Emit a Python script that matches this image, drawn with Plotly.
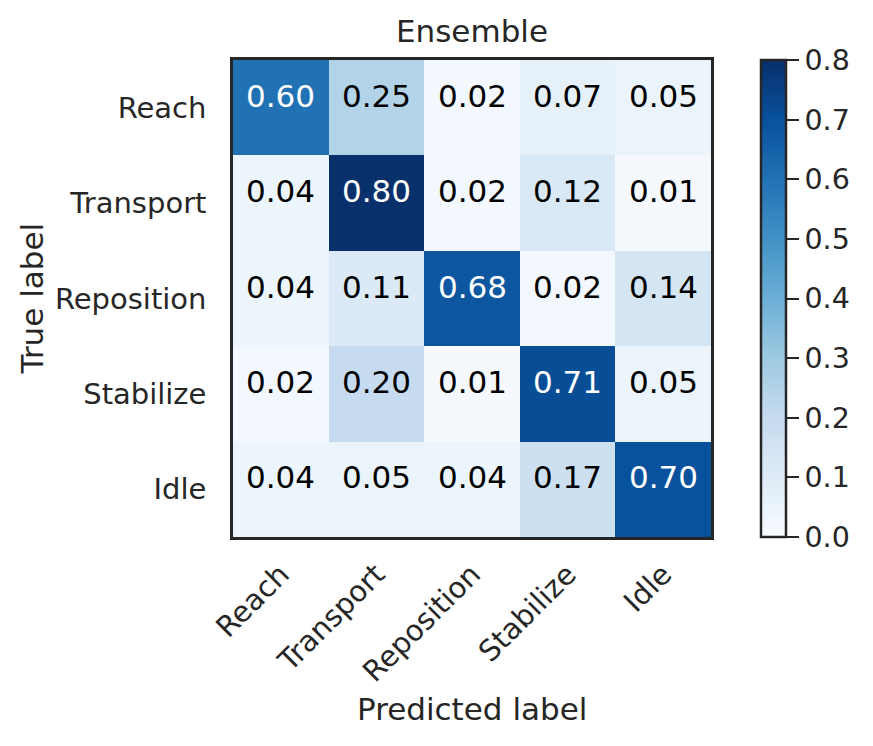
import plotly.graph_objects as go

labels = ["Reach", "Transport", "Reposition", "Stabilize", "Idle"]
values = [
    [0.60, 0.25, 0.02, 0.07, 0.05],
    [0.04, 0.80, 0.02, 0.12, 0.01],
    [0.04, 0.11, 0.68, 0.02, 0.14],
    [0.02, 0.20, 0.01, 0.71, 0.05],
    [0.04, 0.05, 0.04, 0.17, 0.70],
]
cbar_ticks = [0.0, 0.1, 0.2, 0.3, 0.4, 0.5, 0.6, 0.7, 0.8]

blues = ["#f7fbff", "#deebf7", "#c6dbef", "#9ecae1", "#6baed6",
         "#4292c6", "#2171b5", "#08519c", "#08306b"]
colorscale = [[i / (len(blues) - 1), c] for i, c in enumerate(blues)]

FONT = "DejaVu Sans"
DARK = "#262626"
vmax = 0.8
thresh = max(max(r) for r in values) / 2
OFF = 8  # page body margin compensation

fig = go.Figure(go.Heatmap(
    z=values, x=labels, y=labels,
    colorscale=colorscale, zmin=0, zmax=vmax,
    showscale=True,
    colorbar=dict(
        x=(761 - 233) / 478, xanchor="left", xpad=0,
        y=0.5, yanchor="middle", ypad=0,
        len=1, lenmode="fraction", thickness=25,
        outlinewidth=2.5, outlinecolor=DARK,
        tickvals=cbar_ticks, ticktext=[f"{t:.1f}" for t in cbar_ticks],
        ticks="outside", ticklen=12, tickwidth=2, tickcolor=DARK,
        tickfont=dict(family=FONT, size=28.5, color=DARK),
    ),
    hoverinfo="skip",
))

annotations = []
for i, row in enumerate(values):
    for j, v in enumerate(row):
        annotations.append(dict(
            x=labels[j], y=labels[i], xref="x", yref="y",
            text=f"{v:.2f}", showarrow=False, yshift=12,
            font=dict(family=FONT, size=31,
                      color="white" if v > thresh else "black"),
        ))

annotations.append(dict(
    x=(31 - 233) / 478, y=0.5, xref="paper", yref="paper",
    text="True label", textangle=-90, showarrow=False,
    xanchor="center", yanchor="middle",
    font=dict(family=FONT, size=31, color=DARK),
))
annotations.append(dict(
    x=0.5, y=(537 - 709) / 477, xref="paper", yref="paper",
    text="Predicted label", showarrow=False,
    xanchor="center", yanchor="middle",
    font=dict(family=FONT, size=31, color=DARK),
))

fig.update_layout(
    width=873 - OFF, height=746 - OFF,
    margin=dict(l=233 - OFF, r=162, t=60 - OFF, b=209),
    paper_bgcolor="white", plot_bgcolor="white",
    title=dict(text="Ensemble", x=0.5, xref="paper",
               y=1 - (31 - OFF) / (746 - OFF), yref="container",
               yanchor="middle",
               font=dict(family=FONT, size=31, color=DARK)),
    annotations=annotations,
    xaxis=dict(
        tickangle=-45, ticks="outside", ticklen=6, tickcolor="rgba(0,0,0,0)",
        tickfont=dict(family=FONT, size=29, color=DARK),
        showline=True, mirror=True, linewidth=2.5, linecolor=DARK,
        showgrid=False, zeroline=False,
    ),
    yaxis=dict(
        autorange="reversed", ticks="outside", ticklen=18,
        tickcolor="rgba(0,0,0,0)",
        tickfont=dict(family=FONT, size=29, color=DARK),
        showline=True, mirror=True, linewidth=2.5, linecolor=DARK,
        showgrid=False, zeroline=False,
    ),
)

fig.write_html("out.html")
